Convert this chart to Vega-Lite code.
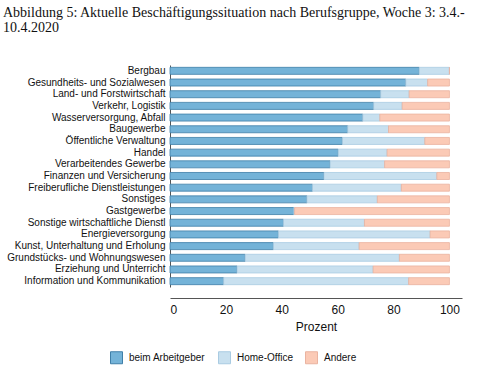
{
  "$schema": "https://vega.github.io/schema/vega-lite/v6.json",
  "width": 292,
  "height": 245,
  "autosize": "none",
  "padding": {"left": 170, "top": 53, "right": 18, "bottom": 71},
  "background": "white",
  "title": {
    "text": ["Abbildung 5: Aktuelle Beschäftigungssituation nach Berufsgruppe, Woche 3: 3.4.-", "10.4.2020"],
    "anchor": "start",
    "frame": "group",
    "dx": -167,
    "font": "Liberation Serif",
    "fontSize": 14,
    "fontWeight": "normal",
    "color": "#111",
    "lineHeight": 15.5,
    "offset": 18
  },
  "data": {
    "values": [
      {"Berufsgruppe": "Bergbau", "Ort": "beim Arbeitgeber", "k": 1, "Prozent": 89.2},
      {"Berufsgruppe": "Bergbau", "Ort": "Home-Office", "k": 2, "Prozent": 10.8},
      {"Berufsgruppe": "Bergbau", "Ort": "Andere", "k": 3, "Prozent": 0},
      {"Berufsgruppe": "Gesundheits- und Sozialwesen", "Ort": "beim Arbeitgeber", "k": 1, "Prozent": 84.4},
      {"Berufsgruppe": "Gesundheits- und Sozialwesen", "Ort": "Home-Office", "k": 2, "Prozent": 7.8},
      {"Berufsgruppe": "Gesundheits- und Sozialwesen", "Ort": "Andere", "k": 3, "Prozent": 7.8},
      {"Berufsgruppe": "Land- und Forstwirtschaft", "Ort": "beim Arbeitgeber", "k": 1, "Prozent": 75.4},
      {"Berufsgruppe": "Land- und Forstwirtschaft", "Ort": "Home-Office", "k": 2, "Prozent": 10.2},
      {"Berufsgruppe": "Land- und Forstwirtschaft", "Ort": "Andere", "k": 3, "Prozent": 14.4},
      {"Berufsgruppe": "Verkehr, Logistik", "Ort": "beim Arbeitgeber", "k": 1, "Prozent": 72.9},
      {"Berufsgruppe": "Verkehr, Logistik", "Ort": "Home-Office", "k": 2, "Prozent": 10.2},
      {"Berufsgruppe": "Verkehr, Logistik", "Ort": "Andere", "k": 3, "Prozent": 16.9},
      {"Berufsgruppe": "Wasserversorgung, Abfall", "Ort": "beim Arbeitgeber", "k": 1, "Prozent": 69.0},
      {"Berufsgruppe": "Wasserversorgung, Abfall", "Ort": "Home-Office", "k": 2, "Prozent": 6.1},
      {"Berufsgruppe": "Wasserversorgung, Abfall", "Ort": "Andere", "k": 3, "Prozent": 24.9},
      {"Berufsgruppe": "Baugewerbe", "Ort": "beim Arbeitgeber", "k": 1, "Prozent": 63.6},
      {"Berufsgruppe": "Baugewerbe", "Ort": "Home-Office", "k": 2, "Prozent": 14.6},
      {"Berufsgruppe": "Baugewerbe", "Ort": "Andere", "k": 3, "Prozent": 21.8},
      {"Berufsgruppe": "Öffentliche Verwaltung", "Ort": "beim Arbeitgeber", "k": 1, "Prozent": 61.7},
      {"Berufsgruppe": "Öffentliche Verwaltung", "Ort": "Home-Office", "k": 2, "Prozent": 29.5},
      {"Berufsgruppe": "Öffentliche Verwaltung", "Ort": "Andere", "k": 3, "Prozent": 8.8},
      {"Berufsgruppe": "Handel", "Ort": "beim Arbeitgeber", "k": 1, "Prozent": 60.2},
      {"Berufsgruppe": "Handel", "Ort": "Home-Office", "k": 2, "Prozent": 17.5},
      {"Berufsgruppe": "Handel", "Ort": "Andere", "k": 3, "Prozent": 22.3},
      {"Berufsgruppe": "Verarbeitendes Gewerbe", "Ort": "beim Arbeitgeber", "k": 1, "Prozent": 57.3},
      {"Berufsgruppe": "Verarbeitendes Gewerbe", "Ort": "Home-Office", "k": 2, "Prozent": 19.5},
      {"Berufsgruppe": "Verarbeitendes Gewerbe", "Ort": "Andere", "k": 3, "Prozent": 23.2},
      {"Berufsgruppe": "Finanzen und Versicherung", "Ort": "beim Arbeitgeber", "k": 1, "Prozent": 55.1},
      {"Berufsgruppe": "Finanzen und Versicherung", "Ort": "Home-Office", "k": 2, "Prozent": 40.4},
      {"Berufsgruppe": "Finanzen und Versicherung", "Ort": "Andere", "k": 3, "Prozent": 4.5},
      {"Berufsgruppe": "Freiberufliche Dienstleistungen", "Ort": "beim Arbeitgeber", "k": 1, "Prozent": 51.0},
      {"Berufsgruppe": "Freiberufliche Dienstleistungen", "Ort": "Home-Office", "k": 2, "Prozent": 31.8},
      {"Berufsgruppe": "Freiberufliche Dienstleistungen", "Ort": "Andere", "k": 3, "Prozent": 17.2},
      {"Berufsgruppe": "Sonstiges", "Ort": "beim Arbeitgeber", "k": 1, "Prozent": 49.0},
      {"Berufsgruppe": "Sonstiges", "Ort": "Home-Office", "k": 2, "Prozent": 25.2},
      {"Berufsgruppe": "Sonstiges", "Ort": "Andere", "k": 3, "Prozent": 25.8},
      {"Berufsgruppe": "Gastgewerbe", "Ort": "beim Arbeitgeber", "k": 1, "Prozent": 44.3},
      {"Berufsgruppe": "Gastgewerbe", "Ort": "Home-Office", "k": 2, "Prozent": 0.3},
      {"Berufsgruppe": "Gastgewerbe", "Ort": "Andere", "k": 3, "Prozent": 55.4},
      {"Berufsgruppe": "Sonstige wirtschaftliche Dienstl", "Ort": "beim Arbeitgeber", "k": 1, "Prozent": 40.6},
      {"Berufsgruppe": "Sonstige wirtschaftliche Dienstl", "Ort": "Home-Office", "k": 2, "Prozent": 29.0},
      {"Berufsgruppe": "Sonstige wirtschaftliche Dienstl", "Ort": "Andere", "k": 3, "Prozent": 30.4},
      {"Berufsgruppe": "Energieversorgung", "Ort": "beim Arbeitgeber", "k": 1, "Prozent": 38.8},
      {"Berufsgruppe": "Energieversorgung", "Ort": "Home-Office", "k": 2, "Prozent": 54.3},
      {"Berufsgruppe": "Energieversorgung", "Ort": "Andere", "k": 3, "Prozent": 6.9},
      {"Berufsgruppe": "Kunst, Unterhaltung und Erholung", "Ort": "beim Arbeitgeber", "k": 1, "Prozent": 37.0},
      {"Berufsgruppe": "Kunst, Unterhaltung und Erholung", "Ort": "Home-Office", "k": 2, "Prozent": 30.7},
      {"Berufsgruppe": "Kunst, Unterhaltung und Erholung", "Ort": "Andere", "k": 3, "Prozent": 32.3},
      {"Berufsgruppe": "Grundstücks- und Wohnungswesen", "Ort": "beim Arbeitgeber", "k": 1, "Prozent": 26.9},
      {"Berufsgruppe": "Grundstücks- und Wohnungswesen", "Ort": "Home-Office", "k": 2, "Prozent": 55.2},
      {"Berufsgruppe": "Grundstücks- und Wohnungswesen", "Ort": "Andere", "k": 3, "Prozent": 17.9},
      {"Berufsgruppe": "Erziehung und Unterricht", "Ort": "beim Arbeitgeber", "k": 1, "Prozent": 24.0},
      {"Berufsgruppe": "Erziehung und Unterricht", "Ort": "Home-Office", "k": 2, "Prozent": 48.7},
      {"Berufsgruppe": "Erziehung und Unterricht", "Ort": "Andere", "k": 3, "Prozent": 27.3},
      {"Berufsgruppe": "Information und Kommunikation", "Ort": "beim Arbeitgeber", "k": 1, "Prozent": 19.2},
      {"Berufsgruppe": "Information und Kommunikation", "Ort": "Home-Office", "k": 2, "Prozent": 66.2},
      {"Berufsgruppe": "Information und Kommunikation", "Ort": "Andere", "k": 3, "Prozent": 14.6}
    ]
  },
  "mark": {"type": "bar", "strokeWidth": 0.8},
  "encoding": {
    "y": {
      "field": "Berufsgruppe",
      "type": "nominal",
      "sort": null,
      "scale": {"range": [12, 234], "paddingInner": 0.4, "paddingOuter": 0.2},
      "axis": {
        "title": null,
        "ticks": false,
        "domain": true,
        "domainColor": "#555",
        "labelFont": "Liberation Sans",
        "labelFontSize": 10,
        "labelColor": "#111",
        "labelPadding": 5,
        "labelLimit": 200
      }
    },
    "x": {
      "field": "Prozent",
      "type": "quantitative",
      "stack": "zero",
      "scale": {"domain": [0, 104.5], "nice": false},
      "axis": {
        "values": [0, 20, 40, 60, 80, 100],
        "grid": false,
        "ticks": false,
        "domainColor": "#555",
        "labelFont": "Liberation Sans",
        "labelFontSize": 12,
        "labelColor": "#111",
        "labelPadding": 6,
        "titleFont": "Liberation Sans",
        "titleFontSize": 12,
        "titleFontWeight": "normal",
        "titleColor": "#111",
        "titlePadding": 6
      }
    },
    "color": {
      "field": "Ort",
      "type": "nominal",
      "sort": ["beim Arbeitgeber", "Home-Office", "Andere"],
      "scale": {"domain": ["beim Arbeitgeber", "Home-Office", "Andere"], "range": ["#74b3d8", "#c8e0ef", "#fbcab6"]},
      "legend": {
        "title": null,
        "orient": "none",
        "direction": "horizontal",
        "legendX": -60,
        "legendY": 298,
        "symbolType": "square",
        "symbolSize": 144,
        "symbolStrokeWidth": 1,
        "labelFont": "Liberation Sans",
        "labelFontSize": 10,
        "labelColor": "#111",
        "columnPadding": 10,
        "labelOffset": 6
      }
    },
    "stroke": {
      "field": "Ort",
      "type": "nominal",
      "scale": {"domain": ["beim Arbeitgeber", "Home-Office", "Andere"], "range": ["#3f7fa8", "#a9cbe2", "#eab3a0"]},
      "legend": null
    },
    "order": {"field": "k", "type": "quantitative"}
  },
  "config": {"view": {"stroke": null}}
}
